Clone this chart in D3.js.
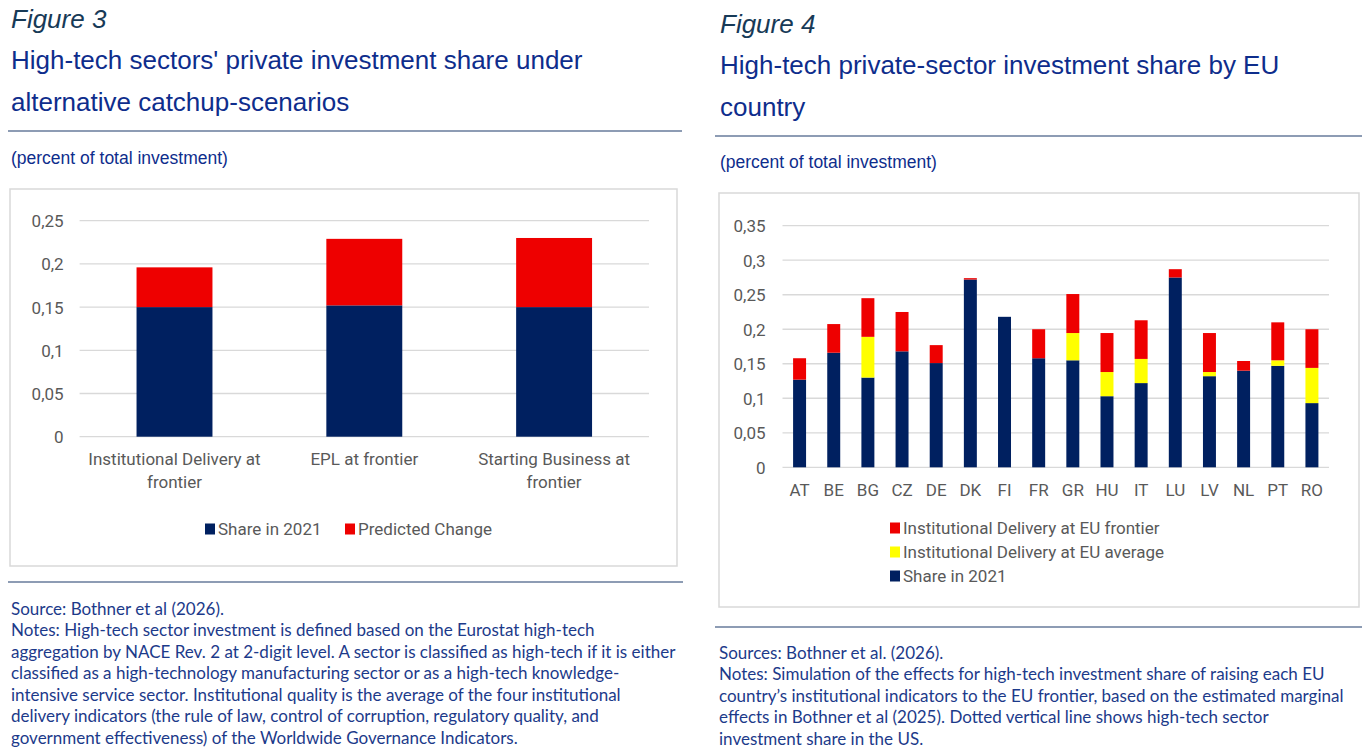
<!DOCTYPE html>
<html>
<head>
<meta charset="utf-8">
<script src="https://cdn.jsdelivr.net/npm/d3@7"></script>
<style>
  body { margin: 0; background: #fff; }
  svg { display: block; }
</style>
</head>
<body>
<svg id="chart" width="1364" height="752"></svg>
<script>
// Figure 3 data
const fig3Categories = ["Institutional Delivery at\nfrontier", "EPL at frontier", "Starting Business at\nfrontier"];
const fig3Share = [0.150, 0.152, 0.150];
const fig3Change = [0.046, 0.077, 0.080];
const fig3Ticks = [0, 0.05, 0.1, 0.15, 0.2, 0.25];

// Figure 4 data
const fig4Countries = ["AT", "BE", "BG", "CZ", "DE", "DK", "FI", "FR", "GR", "HU", "IT", "LU", "LV", "NL", "PT", "RO"];
const fig4Share =    [0.127, 0.166, 0.130, 0.168, 0.151, 0.272, 0.218, 0.158, 0.155, 0.103, 0.122, 0.275, 0.132, 0.140, 0.147, 0.093];
const fig4Average =  [0,     0,     0.059, 0,     0,     0,     0,     0,     0.0395, 0.035, 0.035, 0,     0.006, 0,     0.008, 0.051];
const fig4Frontier = [0.031, 0.0415, 0.056, 0.057, 0.026, 0.002, 0,    0.042, 0.0565, 0.0565, 0.056, 0.012, 0.0565, 0.014, 0.055, 0.056];
const fig4Ticks = [0, 0.05, 0.1, 0.15, 0.2, 0.25, 0.3, 0.35];

const navy = "#002060", red = "#ee0000", yellow = "#ffff00";
const grid = "#d9d9d9", axisText = "#595959";
const titleBlue = "#0e2d8c", figColor = "#173a57", noteBlue = "#1c3a8a";
const chartFont = "Roboto, sans-serif";
const titleFont = "'Liberation Sans', Arial, sans-serif";
const noteFont = "Lato, sans-serif";

const fmt = d => String(d).replace(".", ",");

const svg = d3.select("#chart");

// ---------- headers ----------
function header(x, figY, fig, titleLines, titleY, ruleY, ruleX1, ruleX2, subY) {
  svg.append("text").attr("x", x).attr("y", figY)
    .attr("font-family", titleFont).attr("font-style", "italic")
    .attr("font-size", 26).attr("fill", figColor).text(fig);
  titleLines.forEach((t, i) => {
    svg.append("text").attr("x", x).attr("y", titleY + i * 42)
      .attr("font-family", titleFont).attr("font-size", 26)
      .attr("fill", titleBlue).text(t);
  });
  svg.append("line").attr("x1", ruleX1).attr("x2", ruleX2)
    .attr("y1", ruleY).attr("y2", ruleY)
    .attr("stroke", "#1d3a6b").attr("stroke-width", 1.2);
  svg.append("text").attr("x", x).attr("y", subY)
    .attr("font-family", titleFont).attr("font-size", 17.5)
    .attr("fill", titleBlue).text("(percent of total investment)");
}

header(11, 28, "Figure 3",
  ["High-tech sectors' private investment share under", "alternative catchup-scenarios"],
  69, 131, 8, 682, 164);
header(720, 33, "Figure 4",
  ["High-tech private-sector investment share by EU", "country"],
  74, 136, 715, 1362, 168);

// ---------- chart boxes ----------
svg.append("rect").attr("x", 10).attr("y", 189).attr("width", 667).attr("height", 377)
  .attr("fill", "#fff").attr("stroke", "#d9d9d9").attr("stroke-width", 1.5);
svg.append("rect").attr("x", 719).attr("y", 193).attr("width", 640).attr("height", 414)
  .attr("fill", "#fff").attr("stroke", "#d9d9d9").attr("stroke-width", 1.5);

// ---------- generic stacked bar chart ----------
function stackedChart(opts) {
  const { cats, keys, series, colors, ticks, xr, yr, yMax, pad, labelDx, xLabelY } = opts;
  const g = svg.append("g");
  const x = d3.scaleBand().domain(cats).range(xr).paddingInner(pad).paddingOuter(pad / 2);
  const y = d3.scaleLinear().domain([0, yMax]).range(yr);

  // gridlines
  g.selectAll(".grid").data(ticks).join("line")
    .attr("x1", xr[0]).attr("x2", xr[1])
    .attr("y1", d => y(d)).attr("y2", d => y(d))
    .attr("stroke", grid).attr("stroke-width", 1.3);

  // y axis labels
  const yAxis = d3.axisLeft(y).tickValues(ticks).tickFormat(fmt).tickSize(0).tickPadding(0);
  const ya = g.append("g").attr("transform", `translate(${xr[0] + labelDx},0)`).call(yAxis);
  ya.select(".domain").remove();
  ya.selectAll("text").attr("font-family", chartFont).attr("font-size", 17)
    .attr("fill", axisText).attr("dy", "0.35em");

  // stacked bars
  const rows = cats.map((c, i) => {
    const r = { cat: c };
    keys.forEach(k => r[k] = series[k][i]);
    return r;
  });
  const stacked = d3.stack().keys(keys)(rows);
  g.selectAll(".layer").data(stacked).join("g")
    .attr("fill", d => colors[d.key])
    .selectAll("rect").data(d => d).join("rect")
    .attr("x", d => x(d.data.cat))
    .attr("width", x.bandwidth())
    .attr("y", d => y(d[1]))
    .attr("height", d => Math.max(0, y(d[0]) - y(d[1])));

  // x labels
  cats.forEach(c => {
    const lines = c.split("\n");
    const t = g.append("text").attr("x", x(c) + x.bandwidth() / 2).attr("y", xLabelY)
      .attr("text-anchor", "middle").attr("font-family", chartFont)
      .attr("font-size", 17).attr("fill", axisText);
    lines.forEach((l, i) => t.append("tspan").attr("x", x(c) + x.bandwidth() / 2)
      .attr("dy", i === 0 ? 0 : 22.5).text(l));
  });
  return g;
}

stackedChart({
  cats: fig3Categories,
  keys: ["share", "change"],
  series: { share: fig3Share, change: fig3Change },
  colors: { share: navy, change: red },
  ticks: fig3Ticks,
  xr: [79.6, 649], yr: [436.7, 220.7], yMax: 0.25, pad: 0.6,
  labelDx: -16, xLabelY: 465
});

stackedChart({
  cats: fig4Countries,
  keys: ["share", "average", "frontier"],
  series: { share: fig4Share, average: fig4Average, frontier: fig4Frontier },
  colors: { share: navy, average: yellow, frontier: red },
  ticks: fig4Ticks,
  xr: [782.5, 1329], yr: [467.3, 225.7], yMax: 0.35, pad: 0.62,
  labelDx: -17, xLabelY: 496
});

// ---------- legends ----------
function legendItem(x, y, color, label) {
  svg.append("rect").attr("x", x).attr("y", y - 5.5).attr("width", 10).attr("height", 11).attr("fill", color);
  svg.append("text").attr("x", x + 13).attr("y", y).attr("dy", "0.35em")
    .attr("font-family", chartFont).attr("font-size", 17).attr("fill", axisText).text(label);
}
legendItem(205, 529, navy, "Share in 2021");
legendItem(345, 529, red, "Predicted Change");
legendItem(890, 528, red, "Institutional Delivery at EU frontier");
legendItem(890, 552, yellow, "Institutional Delivery at EU average");
legendItem(890, 576, navy, "Share in 2021");

// ---------- notes ----------
const fig3Notes = [
  "Source: Bothner et al (2026).",
  "Notes: High-tech sector investment is defined based on the Eurostat high-tech",
  "aggregation by NACE Rev. 2 at 2-digit level. A sector is classified as high-tech if it is either",
  "classified as a high-technology manufacturing sector or as a high-tech knowledge-",
  "intensive service sector. Institutional quality is the average of the four institutional",
  "delivery indicators (the rule of law, control of corruption, regulatory quality, and",
  "government effectiveness) of the Worldwide Governance Indicators."
];
const fig4Notes = [
  "Sources: Bothner et al. (2026).",
  "Notes: Simulation of the effects for high-tech investment share of raising each EU",
  "country\u2019s institutional indicators to the EU frontier, based on the estimated marginal",
  "effects in Bothner et al (2025). Dotted vertical line shows high-tech sector",
  "investment share in the US."
];

svg.append("line").attr("x1", 8).attr("x2", 683).attr("y1", 582).attr("y2", 582)
  .attr("stroke", "#1d3a6b").attr("stroke-width", 1.2);
svg.append("line").attr("x1", 715).attr("x2", 1362).attr("y1", 627).attr("y2", 627)
  .attr("stroke", "#1d3a6b").attr("stroke-width", 1.2);

function notes(x, y0, lines) {
  lines.forEach((l, i) => {
    svg.append("text").attr("x", x).attr("y", y0 + i * 21.5).attr("dy", "0.35em")
      .attr("font-family", noteFont).attr("font-size", 17).attr("fill", noteBlue).text(l);
  });
}
notes(11, 609, fig3Notes);
notes(719, 653, fig4Notes);
</script>
</body>
</html>
